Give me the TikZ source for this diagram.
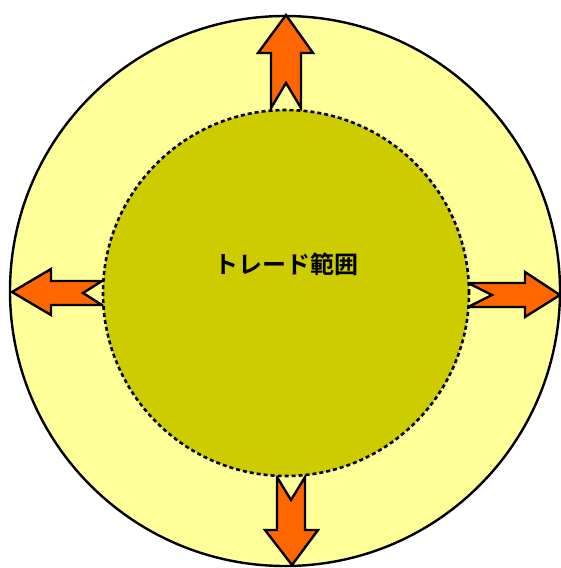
\documentclass[tikz,border=0pt]{standalone}
\usepackage{fontspec}
\newfontfamily\jpfont{Noto Sans CJK JP}[BoldFont={Noto Sans CJK JP Bold}]
\definecolor{outerfill}{HTML}{FFFF99}
\definecolor{innerfill}{HTML}{CCCC00}
\definecolor{arrowfill}{HTML}{FF6600}
\begin{document}
\begin{tikzpicture}[x=1pt,y=-1pt,
  outerring/.style={draw=black,line width=2.4pt,fill=outerfill},
  innerring/.style={draw=black,line width=2.6pt,fill=innerfill,dash pattern=on 4pt off 3pt},
  arrowshape/.style={draw=black,line width=2.4pt,fill=arrowfill,line join=miter},
  label/.style={font=\jpfont\bfseries\fontsize{24}{24}\selectfont,text=black}]
\useasboundingbox (0,0) rectangle (561,568);
\node[circle,outerring,minimum size=550pt,inner sep=0pt] (outer) at (285,291) {};
\draw[arrowshape] (286,15) -- (313,53) -- (301,53) -- (301,108) -- (286,83) -- (271,108) -- (271,53) -- (258,53) -- cycle;
\draw[arrowshape] (277,477) -- (291,500) -- (305,477) -- (305,530) -- (318,530) -- (292,565) -- (265,530) -- (277,530) -- cycle;
\draw[arrowshape] (12,292) -- (51,269) -- (51,281) -- (102,281) -- (83,293) -- (102,305) -- (51,305) -- (51,315) -- cycle;
\draw[arrowshape] (468,283) -- (492,295) -- (468,307) -- (525,307) -- (525,317) -- (560,295) -- (525,272) -- (525,283) -- cycle;
\node[circle,innerring,minimum size=366pt,inner sep=0pt] (inner) at (286,293) {};
\node[label] (title) at (286,264) {トレード範囲};
\end{tikzpicture}
\end{document}
